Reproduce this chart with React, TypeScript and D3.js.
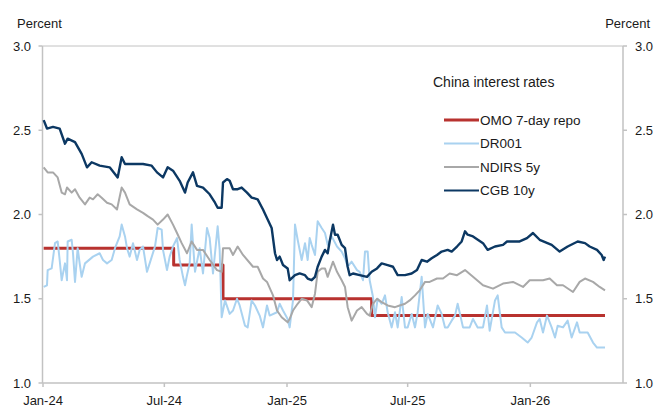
import React from "react";
import * as d3 from "d3";

const yTicks = [1.0, 1.5, 2.0, 2.5, 3.0];
const xTickDates = ["2024-01-01", "2024-07-01", "2025-01-01", "2025-07-01", "2026-01-01"];
const xTickLabels = ["Jan-24", "Jul-24", "Jan-25", "Jul-25", "Jan-26"];
const xDomain = ["2024-01-01", "2026-05-20"];

const omo: [string, number][] = [
  ["2024-01-02", 1.8], ["2024-07-15", 1.7], ["2024-09-27", 1.5], ["2025-05-08", 1.4], ["2026-04-23", 1.4],
];

const dr001: [string, number][] = [
  ["2024-01-02", 1.57], ["2024-01-07", 1.58], ["2024-01-08", 1.67], ["2024-01-14", 1.68], ["2024-01-19", 1.83],
  ["2024-01-23", 1.84], ["2024-01-26", 1.73], ["2024-01-29", 1.61], ["2024-02-03", 1.71], ["2024-02-06", 1.61],
  ["2024-02-07", 1.84], ["2024-02-13", 1.85], ["2024-02-15", 1.77], ["2024-02-18", 1.60], ["2024-02-21", 1.75],
  ["2024-02-22", 1.80], ["2024-02-25", 1.71], ["2024-02-28", 1.63], ["2024-03-04", 1.71], ["2024-03-16", 1.75],
  ["2024-03-26", 1.77], ["2024-03-31", 1.73], ["2024-04-06", 1.71], ["2024-04-13", 1.73], ["2024-04-18", 1.80],
  ["2024-04-25", 1.87], ["2024-04-28", 1.94], ["2024-05-03", 1.87], ["2024-05-06", 1.80], ["2024-05-10", 1.75],
  ["2024-05-15", 1.83], ["2024-05-21", 1.73], ["2024-05-25", 1.79], ["2024-05-30", 1.81], ["2024-06-05", 1.66],
  ["2024-06-09", 1.71], ["2024-06-17", 1.81], ["2024-06-21", 1.92], ["2024-06-27", 1.91], ["2024-06-29", 1.79],
  ["2024-07-05", 1.67], ["2024-07-09", 1.75], ["2024-07-14", 1.81], ["2024-07-20", 1.86], ["2024-07-24", 1.73],
  ["2024-07-29", 1.63], ["2024-08-01", 1.58], ["2024-08-04", 1.64], ["2024-08-08", 1.71], ["2024-08-11", 1.94],
  ["2024-08-16", 1.66], ["2024-08-23", 1.80], ["2024-08-28", 1.65], ["2024-09-03", 1.92], ["2024-09-07", 1.86],
  ["2024-09-12", 1.65], ["2024-09-19", 1.93], ["2024-09-22", 1.79], ["2024-09-25", 1.39], ["2024-09-30", 1.49],
  ["2024-10-07", 1.41], ["2024-10-12", 1.43], ["2024-10-18", 1.50], ["2024-10-22", 1.46], ["2024-10-30", 1.34],
  ["2024-11-03", 1.33], ["2024-11-09", 1.49], ["2024-11-14", 1.46], ["2024-11-21", 1.40], ["2024-11-26", 1.33],
  ["2024-12-02", 1.46], ["2024-12-06", 1.40], ["2024-12-17", 1.42], ["2024-12-21", 1.47], ["2024-12-26", 1.43],
  ["2025-01-02", 1.38], ["2025-01-05", 1.33], ["2025-01-10", 1.49], ["2025-01-13", 1.94], ["2025-01-17", 1.85],
  ["2025-01-23", 1.73], ["2025-01-28", 1.83], ["2025-02-01", 1.73], ["2025-02-04", 1.86], ["2025-02-07", 1.82],
  ["2025-02-12", 1.76], ["2025-02-16", 1.96], ["2025-02-22", 1.92], ["2025-02-27", 1.89], ["2025-03-03", 1.82],
  ["2025-03-09", 1.87], ["2025-03-17", 1.81], ["2025-03-24", 1.78], ["2025-03-29", 1.74], ["2025-04-02", 1.69],
  ["2025-04-08", 1.72], ["2025-04-16", 1.67], ["2025-04-20", 1.66], ["2025-04-25", 1.61], ["2025-04-28", 1.78],
  ["2025-05-02", 1.78], ["2025-05-05", 1.61], ["2025-05-10", 1.51], ["2025-05-13", 1.39], ["2025-05-17", 1.50],
  ["2025-05-23", 1.47], ["2025-05-28", 1.52], ["2025-06-01", 1.42], ["2025-06-07", 1.33], ["2025-06-12", 1.42],
  ["2025-06-16", 1.33], ["2025-06-22", 1.51], ["2025-06-27", 1.33], ["2025-07-01", 1.33], ["2025-07-07", 1.41],
  ["2025-07-12", 1.33], ["2025-07-16", 1.42], ["2025-07-22", 1.63], ["2025-07-27", 1.33], ["2025-07-31", 1.41],
  ["2025-08-08", 1.33], ["2025-08-15", 1.46], ["2025-08-21", 1.41], ["2025-08-26", 1.33], ["2025-08-30", 1.33],
  ["2025-09-05", 1.37], ["2025-09-10", 1.40], ["2025-09-14", 1.47], ["2025-09-22", 1.33], ["2025-10-02", 1.33],
  ["2025-10-07", 1.38], ["2025-10-14", 1.33], ["2025-10-22", 1.33], ["2025-10-28", 1.46], ["2025-11-01", 1.31],
  ["2025-11-09", 1.49], ["2025-11-13", 1.52], ["2025-11-19", 1.33], ["2025-11-24", 1.30], ["2025-12-09", 1.30],
  ["2025-12-19", 1.27], ["2025-12-28", 1.24], ["2026-01-03", 1.27], ["2026-01-11", 1.36], ["2026-01-15", 1.38],
  ["2026-01-20", 1.30], ["2026-01-26", 1.40], ["2026-02-02", 1.33], ["2026-02-07", 1.27], ["2026-02-11", 1.34],
  ["2026-02-19", 1.33], ["2026-02-26", 1.37], ["2026-03-04", 1.27], ["2026-03-12", 1.36], ["2026-03-16", 1.30],
  ["2026-03-28", 1.30], ["2026-04-05", 1.24], ["2026-04-11", 1.21], ["2026-04-23", 1.21],
];

const ndirs5y: [string, number][] = [
  ["2024-01-02", 2.28], ["2024-01-08", 2.25], ["2024-01-16", 2.25], ["2024-01-23", 2.22], ["2024-01-29", 2.13],
  ["2024-02-03", 2.12], ["2024-02-06", 2.16], ["2024-02-13", 2.13], ["2024-02-18", 2.15], ["2024-02-25", 2.10],
  ["2024-03-04", 2.06], ["2024-03-11", 2.10], ["2024-03-16", 2.09], ["2024-03-23", 2.12], ["2024-03-29", 2.10],
  ["2024-04-06", 2.07], ["2024-04-13", 2.06], ["2024-04-21", 2.03], ["2024-04-28", 2.16], ["2024-05-03", 2.13],
  ["2024-05-10", 2.06], ["2024-05-21", 2.03], ["2024-05-30", 2.01], ["2024-06-06", 1.99], ["2024-06-14", 1.97],
  ["2024-06-21", 1.94], ["2024-06-29", 1.97], ["2024-07-06", 2.00], ["2024-07-14", 1.94], ["2024-07-20", 1.89],
  ["2024-07-27", 1.83], ["2024-08-04", 1.77], ["2024-08-11", 1.84], ["2024-08-19", 1.79], ["2024-08-28", 1.79],
  ["2024-09-07", 1.73], ["2024-09-18", 1.67], ["2024-09-25", 1.66], ["2024-09-27", 1.80], ["2024-10-07", 1.80],
  ["2024-10-12", 1.76], ["2024-10-19", 1.81], ["2024-10-27", 1.76], ["2024-11-11", 1.69], ["2024-11-18", 1.69],
  ["2024-11-26", 1.62], ["2024-12-02", 1.60], ["2024-12-11", 1.52], ["2024-12-17", 1.43], ["2024-12-24", 1.39],
  ["2025-01-02", 1.36], ["2025-01-05", 1.38], ["2025-01-10", 1.43], ["2025-01-17", 1.47], ["2025-01-23", 1.50],
  ["2025-01-31", 1.49], ["2025-02-07", 1.45], ["2025-02-12", 1.53], ["2025-02-16", 1.66], ["2025-02-22", 1.68],
  ["2025-02-27", 1.68], ["2025-03-03", 1.63], ["2025-03-11", 1.72], ["2025-03-17", 1.66], ["2025-03-24", 1.61],
  ["2025-03-29", 1.57], ["2025-04-02", 1.45], ["2025-04-08", 1.37], ["2025-04-16", 1.43], ["2025-04-23", 1.45],
  ["2025-05-01", 1.41], ["2025-05-05", 1.40], ["2025-05-10", 1.47], ["2025-05-16", 1.50], ["2025-05-23", 1.48],
  ["2025-06-01", 1.46], ["2025-06-12", 1.45], ["2025-06-19", 1.46], ["2025-06-27", 1.47], ["2025-07-04", 1.49],
  ["2025-07-12", 1.52], ["2025-07-19", 1.55], ["2025-07-27", 1.60], ["2025-08-03", 1.60], ["2025-08-14", 1.62],
  ["2025-08-23", 1.62], ["2025-09-02", 1.65], ["2025-09-13", 1.64], ["2025-09-25", 1.67], ["2025-10-07", 1.63],
  ["2025-10-22", 1.58], ["2025-11-06", 1.56], ["2025-11-21", 1.59], ["2025-12-06", 1.60], ["2025-12-21", 1.57],
  ["2025-12-31", 1.61], ["2026-01-20", 1.61], ["2026-01-30", 1.62], ["2026-02-10", 1.58], ["2026-02-19", 1.58],
  ["2026-03-06", 1.54], ["2026-03-16", 1.60], ["2026-03-24", 1.62], ["2026-04-05", 1.60], ["2026-04-15", 1.57],
  ["2026-04-23", 1.55],
];

const cgb10y: [string, number][] = [
  ["2024-01-02", 2.56], ["2024-01-07", 2.51], ["2024-01-16", 2.52], ["2024-01-26", 2.51], ["2024-02-03", 2.42],
  ["2024-02-07", 2.45], ["2024-02-18", 2.43], ["2024-02-28", 2.36], ["2024-03-02", 2.33], ["2024-03-07", 2.28],
  ["2024-03-14", 2.31], ["2024-03-26", 2.29], ["2024-04-10", 2.28], ["2024-04-22", 2.22], ["2024-04-28", 2.34],
  ["2024-05-03", 2.30], ["2024-05-15", 2.30], ["2024-05-30", 2.30], ["2024-06-12", 2.29], ["2024-06-20", 2.25],
  ["2024-06-29", 2.22], ["2024-07-06", 2.28], ["2024-07-14", 2.26], ["2024-07-24", 2.20], ["2024-08-01", 2.13],
  ["2024-08-05", 2.19], ["2024-08-13", 2.25], ["2024-08-19", 2.17], ["2024-08-28", 2.16], ["2024-09-07", 2.12],
  ["2024-09-15", 2.07], ["2024-09-19", 2.04], ["2024-09-25", 2.04], ["2024-09-27", 2.19], ["2024-10-03", 2.21],
  ["2024-10-07", 2.20], ["2024-10-12", 2.15], ["2024-10-19", 2.15], ["2024-10-25", 2.16], ["2024-11-02", 2.13],
  ["2024-11-09", 2.10], ["2024-11-18", 2.09], ["2024-11-26", 2.03], ["2024-12-03", 1.97], ["2024-12-09", 1.92],
  ["2024-12-14", 1.77], ["2024-12-17", 1.73], ["2024-12-21", 1.75], ["2024-12-26", 1.70], ["2025-01-02", 1.68],
  ["2025-01-05", 1.61], ["2025-01-13", 1.64], ["2025-01-20", 1.65], ["2025-01-28", 1.64], ["2025-02-01", 1.62],
  ["2025-02-07", 1.61], ["2025-02-12", 1.63], ["2025-02-16", 1.69], ["2025-02-22", 1.75], ["2025-02-27", 1.79],
  ["2025-03-03", 1.77], ["2025-03-06", 1.84], ["2025-03-11", 1.94], ["2025-03-14", 1.88], ["2025-03-18", 1.88],
  ["2025-03-24", 1.82], ["2025-03-29", 1.80], ["2025-04-02", 1.69], ["2025-04-05", 1.64], ["2025-04-10", 1.65],
  ["2025-04-20", 1.64], ["2025-05-01", 1.63], ["2025-05-08", 1.66], ["2025-05-16", 1.68], ["2025-05-23", 1.71],
  ["2025-06-01", 1.70], ["2025-06-09", 1.69], ["2025-06-16", 1.64], ["2025-06-27", 1.64], ["2025-07-07", 1.65],
  ["2025-07-15", 1.67], ["2025-07-22", 1.73], ["2025-07-30", 1.72], ["2025-08-06", 1.74], ["2025-08-14", 1.76],
  ["2025-08-21", 1.78], ["2025-08-30", 1.79], ["2025-09-05", 1.78], ["2025-09-13", 1.81], ["2025-09-20", 1.84],
  ["2025-09-25", 1.90], ["2025-09-29", 1.88], ["2025-10-07", 1.87], ["2025-10-22", 1.83], ["2025-10-29", 1.79],
  ["2025-11-09", 1.81], ["2025-11-21", 1.82], ["2025-11-27", 1.84], ["2025-12-06", 1.84], ["2025-12-16", 1.84],
  ["2025-12-27", 1.86], ["2026-01-05", 1.89], ["2026-01-15", 1.85], ["2026-02-02", 1.82], ["2026-02-14", 1.78],
  ["2026-02-26", 1.81], ["2026-03-13", 1.84], ["2026-03-24", 1.83], ["2026-03-31", 1.81], ["2026-04-11", 1.79],
  ["2026-04-18", 1.76], ["2026-04-21", 1.73], ["2026-04-23", 1.75],
];

const legendTitle = "China interest rates";
const seriesNames = ["OMO 7-day repo", "DR001", "NDIRS 5y", "CGB 10y"];
const seriesColors = ["#b8322f", "#a9d2f0", "#a8a8a8", "#0c3863"];
const seriesWidths = [3, 2, 2, 2.4];

const W = 657;
const H = 407;
const M = { left: 42.5, right: 623, top: 46, bottom: 383 };
const FONT = "'Liberation Sans', Arial, sans-serif";

export default function App() {
  const parse = d3.timeParse("%Y-%m-%d");
  const x = d3.scaleTime().domain(xDomain.map((s) => parse(s) as Date)).range([M.left + 0.5, M.right]);
  const y = d3.scaleLinear().domain([1, 3]).range([M.bottom, M.top]);

  const toPts = (arr: [string, number][]) => arr.map(([d, v]) => ({ d: parse(d) as Date, v }));
  const line = d3.line<{ d: Date; v: number }>().x((p) => x(p.d)).y((p) => y(p.v));
  const stepLine = d3
    .line<{ d: Date; v: number }>()
    .x((p) => x(p.d))
    .y((p) => y(p.v))
    .curve(d3.curveStepAfter);

  const series = [
    { path: stepLine(toPts(omo)), i: 0 },
    { path: line(toPts(dr001)), i: 1 },
    { path: line(toPts(ndirs5y)), i: 2 },
    { path: line(toPts(cgb10y)), i: 3 },
  ];

  const axisColor = "#c2c2c2";
  const textColor = "#1a1a1a";

  return (
    <svg
      width={W}
      height={H}
      style={{ position: "absolute", left: 0, top: 0, background: "#fff" }}
      fontFamily={FONT}
    >
      {/* frame: top, left, right, bottom */}
      <line x1={M.left} x2={M.right} y1={M.top} y2={M.top} stroke={axisColor} strokeWidth={1} />
      <line x1={M.left} x2={M.left} y1={M.top} y2={M.bottom} stroke={axisColor} strokeWidth={1.5} />
      <line x1={M.right} x2={M.right} y1={M.top} y2={M.bottom} stroke={axisColor} strokeWidth={1.5} />
      <line x1={M.left} x2={M.right} y1={M.bottom} y2={M.bottom} stroke={axisColor} strokeWidth={1.5} />

      {yTicks.map((t) => (
        <g key={"yt" + t}>
          <line x1={M.left - 4} x2={M.left} y1={y(t)} y2={y(t)} stroke={axisColor} strokeWidth={1.5} />
          <line x1={M.right} x2={M.right + 4} y1={y(t)} y2={y(t)} stroke={axisColor} strokeWidth={1.5} />
          <text x={31} y={y(t)} dy="0.36em" textAnchor="end" fontSize={13} fill={textColor}>
            {t.toFixed(1)}
          </text>
          <text x={635} y={y(t)} dy="0.36em" textAnchor="start" fontSize={13} fill={textColor}>
            {t.toFixed(1)}
          </text>
        </g>
      ))}

      {xTickDates.map((s, i) => {
        const xx = x(parse(s) as Date);
        return (
          <g key={"xt" + s}>
            <line x1={xx} x2={xx} y1={M.bottom} y2={M.bottom + 4} stroke={axisColor} strokeWidth={1.5} />
            <text x={xx} y={405} textAnchor="middle" fontSize={13} fill={textColor}>
              {xTickLabels[i]}
            </text>
          </g>
        );
      })}

      <text x={17} y={28} fontSize={13} fill={textColor}>Percent</text>
      <text x={650} y={28} fontSize={13} textAnchor="end" fill={textColor}>Percent</text>

      {series.map((s) => (
        <path
          key={"s" + s.i}
          d={s.path || ""}
          fill="none"
          stroke={seriesColors[s.i]}
          strokeWidth={seriesWidths[s.i]}
          strokeLinejoin="round"
        />
      ))}

      <text x={433} y={87} fontSize={14} fill={textColor}>{legendTitle}</text>
      {seriesNames.map((n, i) => {
        const yy = 120 + i * 23.5;
        return (
          <g key={"lg" + i}>
            <line x1={444} x2={479} y1={yy} y2={yy} stroke={seriesColors[i]} strokeWidth={i === 0 ? 3 : 2.2} />
            <text x={480} y={yy} dy="0.36em" fontSize={13.5} fill={textColor}>{n}</text>
          </g>
        );
      })}
    </svg>
  );
}
